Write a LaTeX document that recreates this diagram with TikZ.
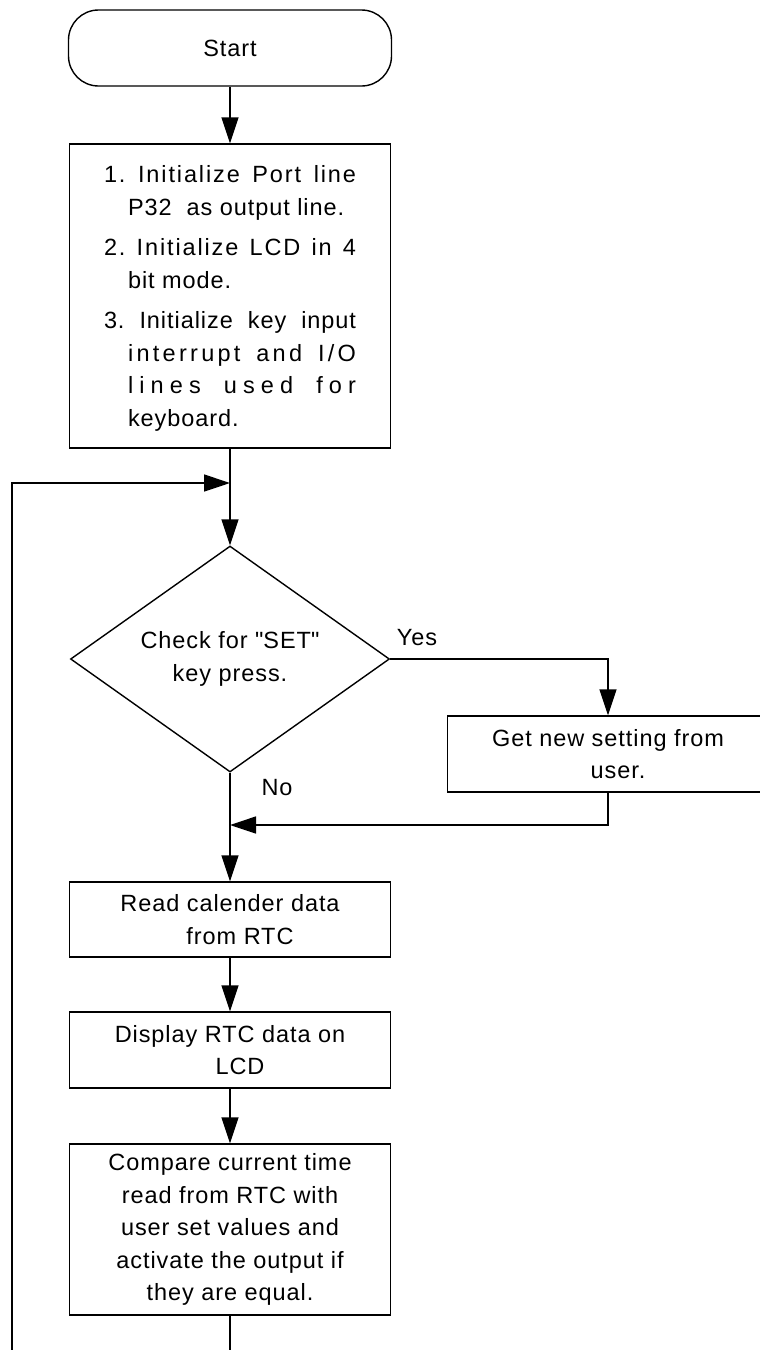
\documentclass[tikz,border=0pt]{standalone}
\usepackage{fontspec}
\setmainfont{Liberation Sans}
\usetikzlibrary{shapes.geometric,arrows.meta}
\frenchspacing

\begin{document}
\begin{tikzpicture}[x=1pt,y=-1pt,line width=1.4pt,
  every node/.style={font=\fontsize{23.5}{32.5}\selectfont\addfontfeature{LetterSpace=4}},
  block/.style={draw,rectangle,minimum width=321pt,inner sep=0pt,align=center},
  flow/.style={-{Triangle[length=26pt,width=17pt]}}]

\useasboundingbox (0,0) rectangle (760,1350);

\node[draw,rounded corners=30pt,minimum width=323pt,minimum height=76pt] (start) at (230,48) {Start};

\node[block,minimum height=304pt,align=left,text depth=0pt] (init) at (230,296) {%
\makebox[252pt][s]{\addfontfeature{LetterSpace=8}1. Initialize Port line}\\
\hspace*{24pt}P32\ \ as output line.\\[8pt]
\makebox[252pt][s]{\addfontfeature{LetterSpace=8}2. Initialize LCD in 4}\\
\hspace*{24pt}bit mode.\\[8pt]
\makebox[252pt][s]{\addfontfeature{LetterSpace=4}3. Initialize key input}\\
\hspace*{24pt}\makebox[228pt][s]{\addfontfeature{LetterSpace=14}interrupt and I/O}\\
\hspace*{24pt}\makebox[228pt][s]{\addfontfeature{LetterSpace=26}lines used for}\\
\hspace*{24pt}keyboard.};

\node[draw,diamond,aspect=1.41,inner sep=0pt,minimum width=319pt,minimum height=226pt,align=center] (check) at (230,659) {Check for \textquotedbl SET\textquotedbl\\key press.};

\node[block,minimum height=76pt] (getnew) at (608,754) {Get new setting from\\\hspace*{20pt}user.};
\node[block,minimum height=75pt] (read) at (230,919.5) {Read calender data\\\hspace*{20pt}from RTC};
\node[block,minimum height=76pt] (show) at (230,1050) {Display RTC data on\\\hspace*{20pt}LCD};
\node[block,minimum height=171pt] (cmp) at (230,1229.5) {Compare current time\\read from RTC with\\user set values and\\activate the output if\\they are equal.};

\node (yes) at (417,638) {Yes};
\node (no) at (277,788) {No};

\coordinate (loopin) at (230,483);
\coordinate (loopout) at (12,1362);
\coordinate (merge) at (230,825);

\draw[flow] (start) -- (init);
\draw[flow] (init) -- (check);
\draw[flow] (check.east) -| (getnew.north);
\draw[flow] (getnew.south) |- (merge);
\draw[flow] (check.south) -- (read);
\draw[flow] (read) -- (show);
\draw[flow] (show) -- (cmp);
% back to the key check
\draw[flow] (cmp.south) |- (loopout) |- (loopin);
\end{tikzpicture}
\end{document}
